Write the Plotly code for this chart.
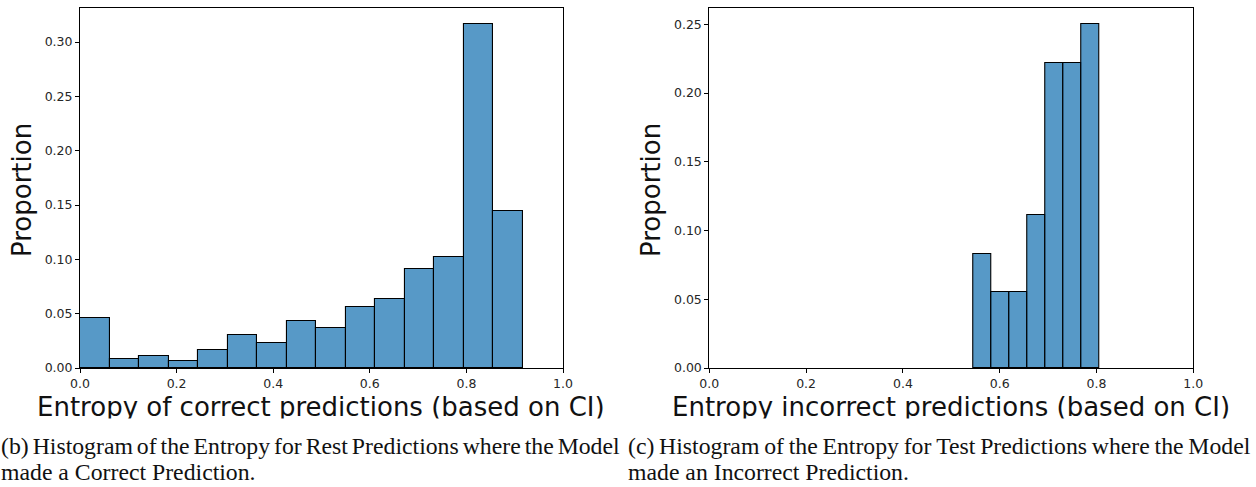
import plotly.graph_objects as go

# Histogram of entropy for correct predictions (15 equal bins)
correct_bin_start = 0.0
correct_bin_width = 0.0611
correct_props = [0.046, 0.008, 0.0113, 0.0064, 0.0169, 0.0304, 0.0233, 0.0429,
                 0.0368, 0.0564, 0.0638, 0.0908, 0.1025, 0.3166, 0.1448]

# Histogram of entropy for incorrect predictions (7 equal bins)
incorrect_bin_start = 0.5455
incorrect_bin_width = 0.0371
incorrect_props = [0.083, 0.0556, 0.0556, 0.111, 0.222, 0.222, 0.25]

y_ticks_left = [0.0, 0.05, 0.10, 0.15, 0.20, 0.25, 0.30]
y_ticks_right = [0.0, 0.05, 0.10, 0.15, 0.20, 0.25]
x_ticks = [0.0, 0.2, 0.4, 0.6, 0.8, 1.0]

W, H = 1256, 487
BAR_FILL = "rgba(31,119,180,0.75)"
TICK_FONT = dict(family="DejaVu Sans", size=12.5, color="#262626")
TITLE_FONT = dict(family="DejaVu Sans", size=26, color="#111111")
CAP_FONT = dict(family="Liberation Serif", size=23.75, color="#111111")


def px_x(p):
    return p / W


def px_y(p):
    return 1 - p / H


def centers(start, width, n):
    return [start + width * (i + 0.5) for i in range(n)]


def set_line(text, gap):
    # first caption lines are justified, so their word spacing is tightened
    return gap.join(text.split())


fig = go.Figure()
fig.add_trace(go.Bar(
    x=centers(correct_bin_start, correct_bin_width, len(correct_props)),
    y=correct_props, width=correct_bin_width,
    marker=dict(color=BAR_FILL, line=dict(color="black", width=1.1)),
    xaxis="x", yaxis="y", showlegend=False,
))
fig.add_trace(go.Bar(
    x=centers(incorrect_bin_start, incorrect_bin_width, len(incorrect_props)),
    y=incorrect_props, width=incorrect_bin_width,
    marker=dict(color=BAR_FILL, line=dict(color="black", width=1.1)),
    xaxis="x2", yaxis="y2", showlegend=False,
))

axis_common = dict(
    showgrid=False, zeroline=False, showline=True, linecolor="black", linewidth=1,
    mirror=True, ticks="outside", ticklen=4, tickwidth=1, tickcolor="black",
    tickfont=TICK_FONT, automargin=False,
)

fig.update_layout(
    width=W, height=H, margin=dict(l=0, r=0, t=0, b=0, pad=0, autoexpand=False),
    paper_bgcolor="white", plot_bgcolor="white", bargap=0,
    xaxis=dict(domain=[px_x(80), px_x(563)], range=[0, 1], tickvals=x_ticks,
               tickformat=".1f", anchor="y", **axis_common),
    yaxis=dict(domain=[px_y(368), px_y(8)], range=[0, 0.3313], tickvals=y_ticks_left,
               tickformat=".2f", anchor="x", **axis_common),
    xaxis2=dict(domain=[px_x(709.3), px_x(1193.3)], range=[0, 1], tickvals=x_ticks,
                tickformat=".1f", anchor="y2", **axis_common),
    yaxis2=dict(domain=[px_y(368), px_y(8)], range=[0, 0.2619], tickvals=y_ticks_right,
                tickformat=".2f", anchor="x2", **axis_common),
)

annotations = [
    # axis titles
    dict(text="Proportion", x=px_x(22), y=px_y(190), textangle=-90, font=TITLE_FONT),
    dict(text="Proportion", x=px_x(651), y=px_y(190), textangle=-90, font=TITLE_FONT),
    dict(text="Entropy of correct predictions (based on CI)", x=px_x(321), y=px_y(407),
         font=TITLE_FONT),
    dict(text="Entropy incorrect predictions (based on CI)", x=px_x(951), y=px_y(407),
         font=TITLE_FONT),
    # strip trimming the title descenders
    dict(text=" ", x=0, y=px_y(418), xanchor="left", yanchor="top", width=W, height=5,
         bgcolor="white", borderpad=0, font=dict(size=4)),
    # captions
    dict(text=set_line("(b) Histogram of the Entropy for Rest Predictions where the Model", "\u2006"),
         x=px_x(-1), y=px_y(446), xanchor="left", font=CAP_FONT),
    dict(text="made a Correct Prediction.", x=px_x(-1), y=px_y(487), xanchor="left",
         yanchor="bottom", font=CAP_FONT),
    dict(text=set_line("(c) Histogram of the Entropy for Test Predictions where the Model", "\u2009"),
         x=px_x(626), y=px_y(446), xanchor="left", font=CAP_FONT),
    dict(text="made an Incorrect Prediction.", x=px_x(626), y=px_y(487), xanchor="left",
         yanchor="bottom", font=CAP_FONT),
]
for a in annotations:
    a.setdefault("xref", "paper")
    a.setdefault("yref", "paper")
    a.setdefault("showarrow", False)
    a.setdefault("xanchor", "center")
    a.setdefault("yanchor", "middle")
    fig.add_annotation(**a)

fig.write_html("out.html")
